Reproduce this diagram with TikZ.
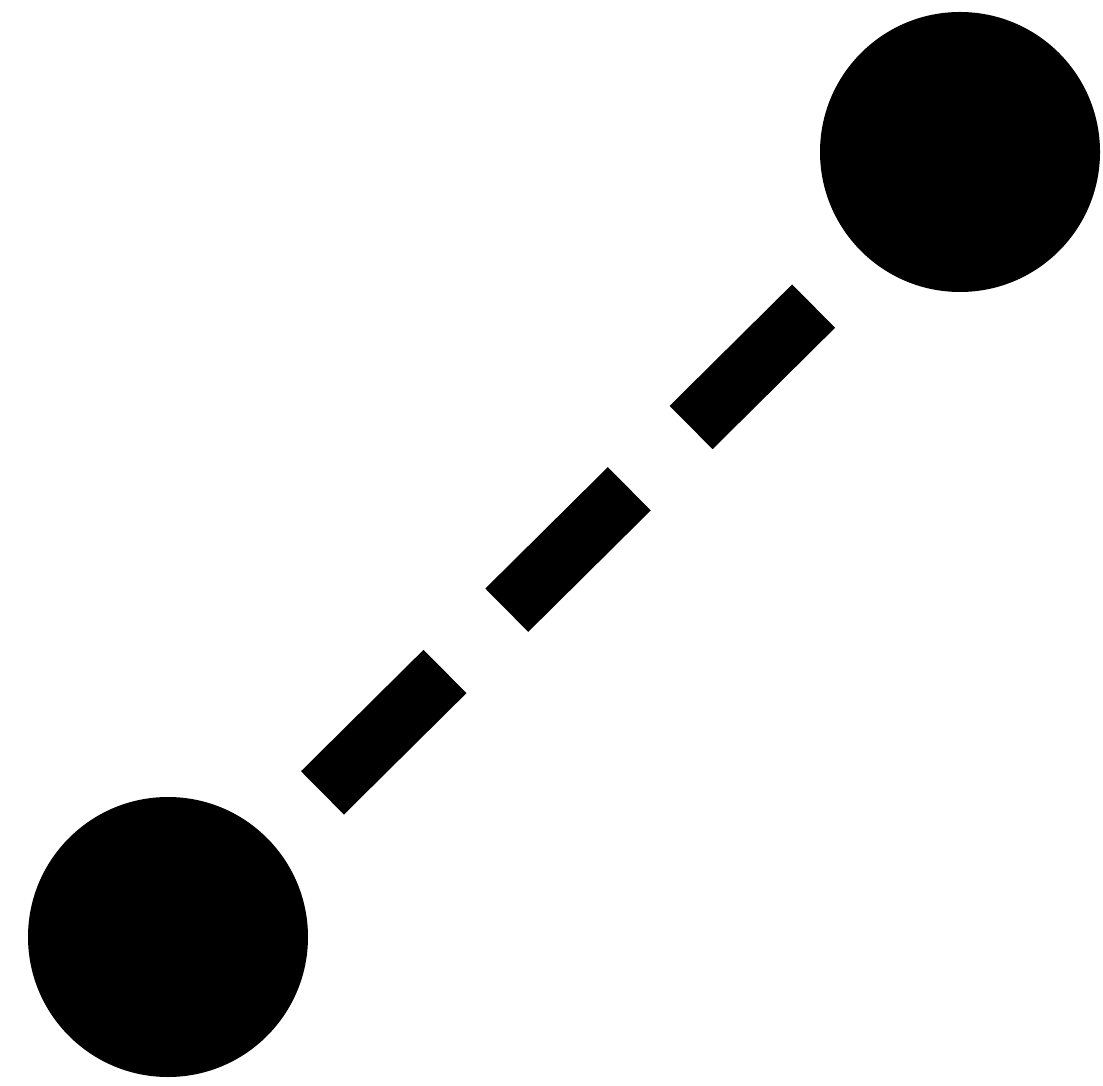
\documentclass[tikz,border=0pt]{standalone}
\usetikzlibrary{positioning}

\begin{document}
\begin{tikzpicture}[
    dot/.style={circle, fill=black, minimum size=2.8cm, inner sep=0pt, outer sep=0pt},
    link/.style={line width=0.61cm, dash pattern=on 1.725cm off 0.87cm, dash phase=1.82cm,
                 shorten <=1.4cm, shorten >=1.4cm}
]
\useasboundingbox (0,0) rectangle (11.03,10.85);

% End points
\node[dot] (lo) at (1.68,1.48) {};
\node[dot] (hi) at (9.60,9.33) {};

% Dashed link
\draw[link] ([yshift=-0.09cm]lo.center) -- ([yshift=-0.09cm]hi.center);

\end{tikzpicture}
\end{document}
